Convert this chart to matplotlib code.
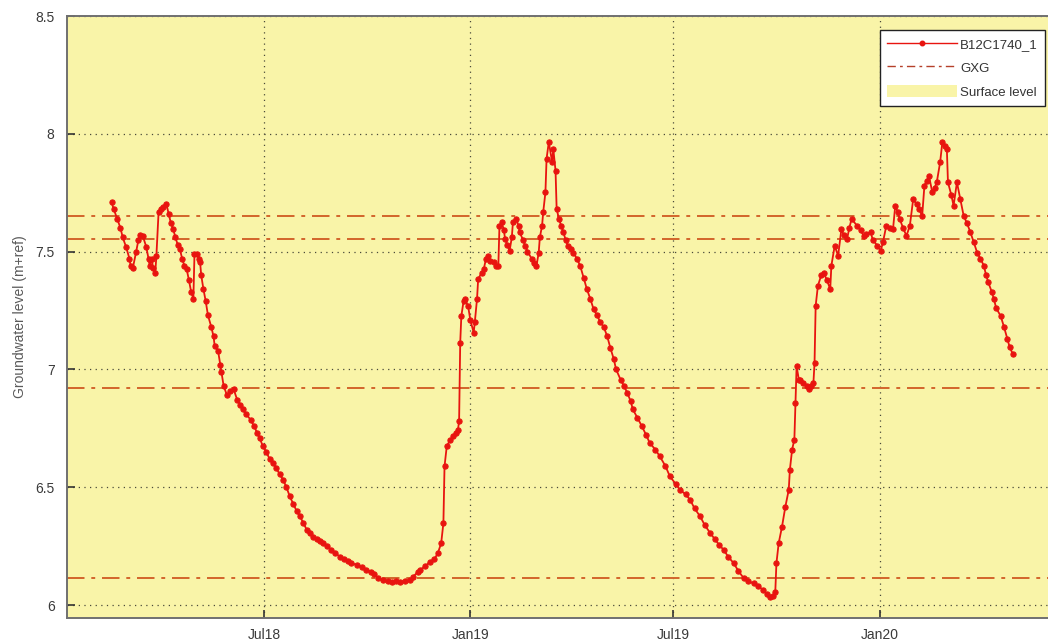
import matplotlib
matplotlib.use("Agg")
import matplotlib.pyplot as plt
import numpy as np
import pandas as pd
from matplotlib.patches import Patch
from matplotlib.lines import Line2D

# ---------------- data ----------------
ref_date = "2018-07-01"
# days relative to ref_date
day_offsets = [
    -136, -134, -131, -128, -126, -123, -120, -119, -117, -114, -112, -111, -108, -105, -103, -102,
    -100, -99, -97, -96, -94, -92, -90, -87, -85, -83, -81, -79, -77, -75, -73, -71, -69, -67, -65,
    -63, -62, -60, -58, -57, -56, -54, -52, -50, -47, -45, -44, -41, -39, -38, -36, -33, -30, -27,
    -24, -21, -19, -16, -12, -9, -6, -4, -1, 2, 5, 8, 11, 14, 17, 20, 23, 26, 29, 32, 35, 38, 41,
    44, 47, 50, 53, 56, 60, 63, 68, 71, 75, 78, 83, 87, 91, 95, 98, 102, 106, 111, 114, 118, 121,
    126, 130, 133, 137, 139, 144, 148, 152, 155, 158, 160, 161, 163, 166, 169, 171, 173, 174, 175,
    176, 178, 179, 182, 184, 187, 188, 190, 191, 194, 196, 198, 200, 202, 205, 207, 209, 210, 212,
    214, 215, 217, 219, 221, 222, 225, 227, 228, 231, 233, 235, 239, 241, 243, 245, 246, 248, 249,
    251, 252, 254, 257, 258, 260, 261, 263, 265, 267, 269, 271, 274, 276, 279, 282, 285, 288, 291,
    294, 297, 300, 303, 306, 309, 312, 314, 318, 321, 324, 327, 329, 333, 337, 341, 344, 349, 353,
    358, 362, 367, 371, 376, 380, 384, 389, 393, 398, 402, 406, 410, 414, 419, 423, 428, 432, 437,
    441, 445, 449, 451, 454, 456, 457, 459, 462, 465, 468, 469, 471, 473, 474, 475, 477, 478, 481,
    484, 486, 488, 490, 491, 492, 494, 497, 499, 502, 505, 506, 509, 512, 515, 517, 520, 522, 524,
    529, 532, 535, 537, 541, 543, 547, 550, 552, 555, 558, 561, 563, 565, 567, 570, 573, 576, 579,
    582, 584, 587, 589, 591, 593, 596, 598, 600, 603, 605, 607, 609, 610, 613, 615, 618, 621, 624,
    627, 630, 633, 636, 639, 642, 644, 646, 649, 651, 653, 657, 660, 663, 665, 668,
]
levels = [
    7.71, 7.68, 7.64, 7.60, 7.56, 7.52, 7.47, 7.44, 7.43, 7.50, 7.55, 7.57, 7.565, 7.52, 7.47, 7.44,
    7.47, 7.43, 7.41, 7.48, 7.67, 7.68, 7.69, 7.70, 7.66, 7.62, 7.596, 7.56, 7.53, 7.51, 7.47, 7.44,
    7.426, 7.38, 7.33, 7.30, 7.49, 7.49, 7.47, 7.455, 7.40, 7.34, 7.29, 7.23, 7.18, 7.14, 7.10, 7.08,
    7.02, 6.99, 6.93, 6.89, 6.91, 6.915, 6.872, 6.85, 6.83, 6.81, 6.787, 6.76, 6.73, 6.71, 6.674,
    6.65, 6.62, 6.603, 6.58, 6.555, 6.532, 6.50, 6.461, 6.43, 6.40, 6.376, 6.35, 6.32, 6.305, 6.29,
    6.28, 6.27, 6.262, 6.25, 6.235, 6.22, 6.206, 6.195, 6.185, 6.178, 6.170, 6.16, 6.15, 6.142, 6.13,
    6.115, 6.106, 6.10, 6.098, 6.10, 6.099, 6.10, 6.106, 6.12, 6.14, 6.149, 6.165, 6.184, 6.195,
    6.22, 6.262, 6.348, 6.589, 6.674, 6.70, 6.716, 6.73, 6.745, 6.78, 7.114, 7.227, 7.29, 7.298,
    7.27, 7.21, 7.156, 7.20, 7.30, 7.383, 7.41, 7.426, 7.47, 7.482, 7.46, 7.454, 7.44, 7.44, 7.61,
    7.624, 7.59, 7.553, 7.53, 7.503, 7.56, 7.624, 7.638, 7.61, 7.582, 7.55, 7.525, 7.50, 7.468, 7.45,
    7.44, 7.496, 7.56, 7.61, 7.667, 7.752, 7.894, 7.965, 7.879, 7.936, 7.844, 7.681, 7.64, 7.61,
    7.582, 7.55, 7.525, 7.51, 7.496, 7.47, 7.44, 7.39, 7.34, 7.30, 7.255, 7.23, 7.20, 7.18, 7.142,
    7.09, 7.043, 7.00, 6.957, 6.93, 6.901, 6.865, 6.83, 6.795, 6.759, 6.72, 6.688, 6.66, 6.631,
    6.59, 6.546, 6.515, 6.489, 6.47, 6.447, 6.41, 6.376, 6.34, 6.305, 6.28, 6.255, 6.234, 6.205,
    6.177, 6.145, 6.113, 6.10, 6.092, 6.08, 6.064, 6.045, 6.035, 6.04, 6.057, 6.177, 6.262, 6.333,
    6.418, 6.489, 6.574, 6.66, 6.702, 6.858, 7.014, 6.957, 6.957, 6.943, 6.93, 6.915, 6.93, 6.943,
    7.028, 7.27, 7.355, 7.40, 7.411, 7.38, 7.34, 7.44, 7.525, 7.482, 7.596, 7.57, 7.553, 7.60,
    7.638, 7.61, 7.59, 7.567, 7.575, 7.582, 7.55, 7.525, 7.503, 7.539, 7.61, 7.60, 7.596, 7.695,
    7.67, 7.638, 7.60, 7.567, 7.61, 7.723, 7.70, 7.681, 7.652, 7.78, 7.80, 7.823, 7.752, 7.77,
    7.794, 7.879, 7.965, 7.95, 7.936, 7.794, 7.74, 7.695, 7.794, 7.723, 7.652, 7.62, 7.582, 7.54,
    7.496, 7.47, 7.44, 7.40, 7.369, 7.33, 7.298, 7.26, 7.227, 7.18, 7.128, 7.095, 7.064,
]
gxg_levels = [7.651, 7.553, 6.923, 6.115]
series_name = "B12C1740_1"
gxg_name = "GXG"
surface_name = "Surface level"
y_ticks = [6, 6.5, 7, 7.5, 8, 8.5]
y_ticklabels = ["6", "6.5", "7", "7.5", "8", "8.5"]
x_tick_dates = ["2018-07-01", "2019-01-01", "2019-07-01", "2020-01-01"]
x_ticklabels = ["Jul18", "Jan19", "Jul19", "Jan20"]
y_label = "Groundwater level (m+ref)"
x_limits = (-175.7, 701.0)   # days relative to ref_date
y_limits = (5.945, 8.5)

# ---------------- plot ----------------
plt.rcParams['font.family'] = ['Liberation Sans', 'DejaVu Sans']

ref = pd.Timestamp(ref_date)
dates = ref + pd.to_timedelta(day_offsets, unit="D")

fig = plt.figure(figsize=(10.48, 6.4), dpi=100)
W, H = 1048, 640
ax = fig.add_axes([67 / W, (H - 618) / H, (1050 - 67) / W, (618 - 16) / H])

yellow = "#F9F4A8"
ax.set_facecolor("white")
ax.axhspan(5.0, 9.0, color=yellow, zorder=0)

grid_col = "#4a4a3a"
for d in x_tick_dates:
    ax.axvline(pd.Timestamp(d), color=grid_col, lw=0.9, ls=(0, (1, 3.5)), zorder=1)
for yv in y_ticks:
    ax.axhline(yv, color=grid_col, lw=0.9, ls=(0, (1, 3.5)), zorder=1)

gxg_col = "#D2652B"
for g in gxg_levels:
    ax.axhline(g, color=gxg_col, lw=1.4, ls=(0, (9, 3.5, 2, 3.5)), zorder=2)

red = "#E8140F"
ax.plot(dates, levels, color=red, lw=1.3, marker=".", ms=7.5,
        markeredgewidth=0.8, zorder=3)

ax.set_xlim(ref + pd.Timedelta(days=x_limits[0]), ref + pd.Timedelta(days=x_limits[1]))
ax.set_ylim(*y_limits)

ax.set_yticks(y_ticks)
ax.set_yticklabels(y_ticklabels)
ax.set_xticks([pd.Timestamp(d) for d in x_tick_dates])
ax.set_xticklabels(x_ticklabels, family=['Liberation Sans Narrow', 'Liberation Sans', 'DejaVu Sans'])

ax.tick_params(axis="both", direction="in", length=6, width=1.2, color="#333333",
               labelcolor="#3a3a3a", labelsize=10)
ax.tick_params(axis="x", pad=7)
ax.tick_params(axis="y", pad=9)

for s in ax.spines.values():
    s.set_color("#707070")
    s.set_linewidth(1.4)

ax.set_ylabel(y_label, color="#5a5a5a", fontsize=10, labelpad=6)

handles = [
    Line2D([0, 0.5, 1], [0, 0, 0], color=red, lw=1.0, marker=".", ms=6.5, markevery=[1]),
    Line2D([0], [0], color="#B5402A", lw=1.0, ls=(0, (6, 3, 2, 3))),
    Patch(facecolor=yellow, edgecolor="none"),
]
leg = ax.legend(handles, [series_name, gxg_name, surface_name], loc="upper right",
                bbox_to_anchor=(1045 / W, (H - 30) / H), bbox_transform=fig.transFigure,
                fontsize=9.5, frameon=True, fancybox=False, borderpad=0.55,
                handlelength=5.3, handleheight=1.1, handletextpad=0.2, labelspacing=0.75,
                borderaxespad=0)
leg.get_frame().set_edgecolor("#222222")
leg.get_frame().set_linewidth(1.0)
leg.get_frame().set_facecolor("white")
leg.get_frame().set_alpha(1.0)
for t in leg.get_texts():
    t.set_color("#333333")

fig.savefig("out.png", dpi=100)
